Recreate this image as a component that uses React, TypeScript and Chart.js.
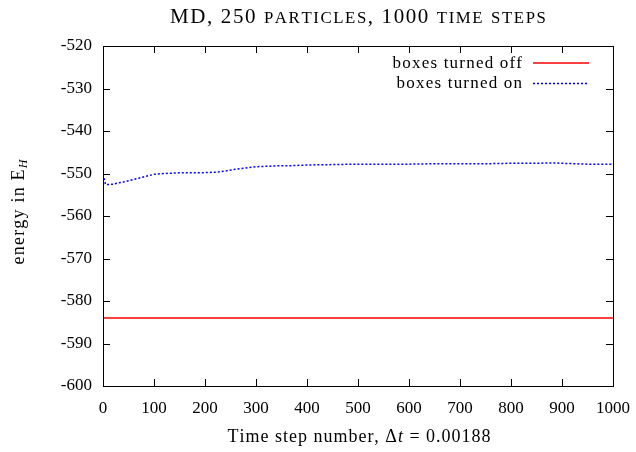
import React, { useEffect, useRef } from 'react';
import { Chart, registerables } from 'chart.js';

Chart.register(...registerables);

const TITLE = 'MD, 250 particles, 1000 time steps';
const LEGEND_LABELS = ['boxes turned off', 'boxes turned on'];
const X_TICKS = [0, 100, 200, 300, 400, 500, 600, 700, 800, 900, 1000];
const Y_TICKS = [-600, -590, -580, -570, -560, -550, -540, -530, -520];

// boxes turned off (red, solid)
const OFF_STEPS = [0, 100, 200, 300, 400, 500, 600, 700, 800, 900, 1000];
const OFF_ENERGY = [-584.0, -584.0, -584.0, -584.0, -584.0, -584.0, -584.0, -584.0, -584.0, -584.0, -584.0];

// boxes turned on (blue, dotted)
const ON_STEPS = [
  0, 5, 10, 20, 30, 40, 50, 60, 70, 80, 90, 100, 120, 140, 160, 180, 200, 220, 240, 260, 280,
  300, 320, 340, 360, 380, 400, 450, 500, 550, 600, 650, 700, 750, 800, 850, 880, 900, 950, 1000,
];
const ON_ENERGY = [
  -550.2, -552.6, -552.6, -552.5, -552.2, -552.0, -551.7, -551.4, -551.1, -550.8, -550.5, -550.2,
  -550.0, -549.9, -549.8, -549.8, -549.8, -549.7, -549.4, -549.0, -548.7, -548.4, -548.3, -548.2,
  -548.2, -548.1, -548.0, -547.9, -547.8, -547.8, -547.8, -547.7, -547.7, -547.7, -547.6, -547.6,
  -547.5, -547.6, -547.8, -547.8,
];

const FAMILY = "'Liberation Serif', 'Times New Roman', serif";

type Part = { text: string; font: string; dy?: number };

// draws text parts char by char with extra letter spacing, centred (align 'center') or right-aligned
function drawRich(
  ctx: CanvasRenderingContext2D,
  parts: Part[],
  x0: number,
  y0: number,
  rot: number,
  spacing: number,
  align: 'center' | 'right' = 'center'
) {
  ctx.save();
  ctx.translate(x0, y0);
  ctx.rotate(rot);
  ctx.textAlign = 'left';
  ctx.textBaseline = 'alphabetic';
  ctx.fillStyle = '#000';
  const glyphs: { ch: string; font: string; dy: number; w: number }[] = [];
  parts.forEach((p) => {
    ctx.font = p.font;
    for (const ch of Array.from(p.text)) {
      glyphs.push({ ch, font: p.font, dy: p.dy || 0, w: ctx.measureText(ch).width });
    }
  });
  const total = glyphs.reduce((a, g) => a + g.w, 0) + spacing * (glyphs.length - 1);
  let x = align === 'center' ? -total / 2 : -total;
  glyphs.forEach((g) => {
    ctx.font = g.font;
    ctx.fillText(g.ch, x, g.dy);
    x += g.w + spacing;
  });
  ctx.restore();
}

function smallCapsParts(text: string, size: number, ratio: number): Part[] {
  const parts: Part[] = [];
  for (const ch of Array.from(text)) {
    const lower = ch !== ch.toUpperCase();
    parts.push({ text: ch.toUpperCase(), font: `${lower ? size * ratio : size}px ${FAMILY}` });
  }
  return parts;
}

const decorPlugin = {
  id: 'gnuplotDecor',
  afterDraw(chart: any) {
    const ctx: CanvasRenderingContext2D = chart.ctx;
    const { left, right, top, bottom } = chart.chartArea;
    const xs = chart.scales.x;
    const ys = chart.scales.y;
    ctx.save();
    // frame
    ctx.strokeStyle = '#000';
    ctx.lineWidth = 1;
    ctx.strokeRect(Math.round(left) + 0.5, Math.round(top) + 0.5, Math.round(right - left), Math.round(bottom - top));
    // inward ticks
    const tl = 7;
    ctx.beginPath();
    xs.ticks.forEach((t: any) => {
      const px = Math.round(xs.getPixelForValue(t.value)) + 0.5;
      ctx.moveTo(px, bottom);
      ctx.lineTo(px, bottom - tl);
      ctx.moveTo(px, top);
      ctx.lineTo(px, top + tl);
    });
    ys.ticks.forEach((t: any) => {
      const py = Math.round(ys.getPixelForValue(t.value)) + 0.5;
      ctx.moveTo(left, py);
      ctx.lineTo(left + tl, py);
      ctx.moveTo(right, py);
      ctx.lineTo(right - tl, py);
    });
    ctx.stroke();

    // legend
    const rows = [
      { label: LEGEND_LABELS[0], color: chart.data.datasets[0].borderColor, dash: [] as number[] },
      { label: LEGEND_LABELS[1], color: chart.data.datasets[1].borderColor, dash: [2, 2] },
    ];
    rows.forEach((r, i) => {
      const y = 62.5 + i * 20.5;
      drawRich(ctx, [{ text: r.label, font: `17px ${FAMILY}` }], 522, y + 5, 0, 1.2, 'right');
      ctx.beginPath();
      ctx.strokeStyle = r.color;
      ctx.lineWidth = 1.5;
      ctx.setLineDash(r.dash);
      ctx.moveTo(533, y + 0.5);
      ctx.lineTo(589, y + 0.5);
      ctx.stroke();
      ctx.setLineDash([]);
    });
    ctx.restore();

    // title (small caps)
    drawRich(ctx, smallCapsParts(TITLE, 21, 0.8), 358, 23, 0, 1.6);

    // axis titles
    drawRich(
      ctx,
      [
        { text: 'Time step number, ', font: `18px ${FAMILY}` },
        { text: '\u0394', font: `18px ${FAMILY}` },
        { text: 't', font: `italic 18px ${FAMILY}` },
        { text: ' = 0.00188', font: `18px ${FAMILY}` },
      ],
      359,
      442,
      0,
      1.0
    );
    drawRich(
      ctx,
      [
        { text: 'energy in E', font: `18px ${FAMILY}` },
        { text: 'H', font: `italic 12px ${FAMILY}`, dy: 3 },
      ],
      24,
      212,
      -Math.PI / 2,
      1.2
    );
  },
};

export default function App() {
  const ref = useRef<HTMLCanvasElement | null>(null);
  useEffect(() => {
    if (!ref.current) return;
    const tickFont = { family: FAMILY, size: 17 };
    const chart = new Chart(ref.current, {
      type: 'line',
      data: {
        datasets: [
          {
            label: LEGEND_LABELS[0],
            data: OFF_STEPS.map((s, i) => ({ x: s, y: OFF_ENERGY[i] })),
            borderColor: '#ff0000',
            borderWidth: 1.5,
            pointRadius: 0,
            fill: false,
            tension: 0,
          },
          {
            label: LEGEND_LABELS[1],
            data: ON_STEPS.map((s, i) => ({ x: s, y: ON_ENERGY[i] })),
            borderColor: '#0000ff',
            borderWidth: 1.5,
            borderDash: [2, 2],
            pointRadius: 0,
            fill: false,
            tension: 0,
          },
        ],
      },
      options: {
        responsive: false,
        animation: false,
        devicePixelRatio: 1,
        layout: { padding: { top: 46, right: 23, left: 0, bottom: 0 } },
        plugins: {
          legend: { display: false },
          title: { display: false },
          tooltip: { enabled: false },
        },
        scales: {
          x: {
            type: 'linear',
            min: 0,
            max: 1000,
            afterFit: (s: any) => {
              s.height = 66;
              s.paddingLeft = 0;
              s.paddingRight = 0;
            },
            afterBuildTicks: (s: any) => {
              s.ticks = X_TICKS.map((v) => ({ value: v }));
            },
            grid: { display: false, drawTicks: false },
            border: { display: false },
            ticks: {
              padding: 12,
              color: '#000',
              font: tickFont,
              maxRotation: 0,
              autoSkip: false,
              callback: (v: any) => String(v),
            },
          },
          y: {
            type: 'linear',
            min: -600,
            max: -520,
            afterFit: (s: any) => {
              s.width = 103;
              s.paddingTop = 0;
              s.paddingBottom = 0;
            },
            afterBuildTicks: (s: any) => {
              s.ticks = Y_TICKS.map((v) => ({ value: v }));
            },
            grid: { display: false, drawTicks: false },
            border: { display: false },
            ticks: {
              padding: 11,
              color: '#000',
              font: tickFont,
              autoSkip: false,
              callback: (v: any) => String(v),
            },
          },
        },
      },
      plugins: [decorPlugin],
    } as any);
    return () => chart.destroy();
  }, []);
  return (
    <div style={{ position: 'absolute', left: 0, top: 0, width: 636, height: 452, background: '#fff' }}>
      <canvas ref={ref} width={636} height={452} />
    </div>
  );
}
